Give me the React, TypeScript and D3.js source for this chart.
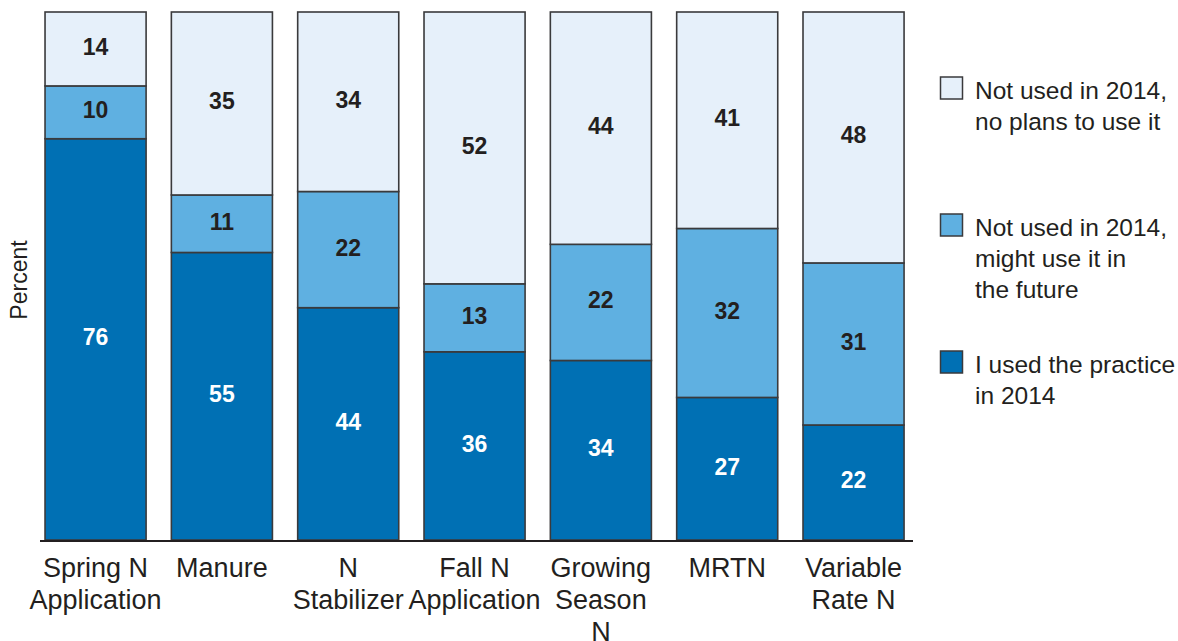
import * as d3 from "d3";

const categories = [
  "Spring N Application",
  "Manure",
  "N Stabilizer",
  "Fall N Application",
  "Growing Season N",
  "MRTN",
  "Variable Rate N",
];
const categoryLines = [
  ["Spring N", "Application"],
  ["Manure"],
  ["N", "Stabilizer"],
  ["Fall N", "Application"],
  ["Growing", "Season", "N"],
  ["MRTN"],
  ["Variable", "Rate N"],
];

// bottom to top
const usedValues = [76, 55, 44, 36, 34, 27, 22];
const mightUseValues = [10, 11, 22, 13, 22, 32, 31];
const noPlansValues = [14, 35, 34, 52, 44, 41, 48];

const seriesKeys = ["used", "might", "noPlans"];
const seriesColors = ["#0070b4", "#5fb0e1", "#e6f0fa"];
const labelColors = ["#ffffff", "#231f20", "#231f20"];
const legendLines = [
  ["I used the practice", "in 2014"],
  ["Not used in 2014,", "might use it in", "the future"],
  ["Not used in 2014,", "no plans to use it"],
];

const W = 1178;
const H = 641;
const FONT = "Liberation Sans, Arial, sans-serif";

export default function App() {
  const rows = categories.map((c, i) => ({
    name: c,
    used: usedValues[i],
    might: mightUseValues[i],
    noPlans: noPlansValues[i],
  }));

  // values are rounded, so normalise each bar to 100%
  const stack = d3
    .stack<any>()
    .keys(seriesKeys)
    .offset(d3.stackOffsetExpand);
  const layers = stack(rows);

  const xScale = d3
    .scaleBand()
    .domain(categories)
    .range([32.4, 916.7])
    .paddingInner(0.2)
    .paddingOuter(0.1);

  const yScale = d3.scaleLinear().domain([0, 1]).range([540, 12]);

  return (
    <div>
      <svg
        width={W}
        height={H}
        style={{ position: "absolute", left: 0, top: 0 }}
        fontFamily={FONT}
      >
        {layers.map((layer, li) => (
          <g key={layer.key}>
            {layer.map((d, i) => {
              const x = xScale(categories[i]) ?? 0;
              const y0 = yScale(d[0]);
              const y1 = yScale(d[1]);
              const v = (d.data as any)[layer.key];
              return (
                <g key={i}>
                  <rect
                    x={x}
                    y={y1}
                    width={xScale.bandwidth()}
                    height={y0 - y1}
                    fill={seriesColors[li]}
                    stroke="#3a3a3c"
                    strokeWidth={1.6}
                  />
                  <text
                    x={x + xScale.bandwidth() / 2}
                    y={(y0 + y1) / 2 - 2}
                    textAnchor="middle"
                    dominantBaseline="central"
                    fontSize={23}
                    fontWeight="bold"
                    fill={labelColors[li]}
                  >
                    {v}
                  </text>
                </g>
              );
            })}
          </g>
        ))}

        <line x1={40} x2={913} y1={541} y2={541} stroke="#231f20" strokeWidth={2} />

        {categoryLines.map((lines, i) => {
          const cx = (xScale(categories[i]) ?? 0) + xScale.bandwidth() / 2;
          return (
            <text key={i} textAnchor="middle" fontSize={27} fill="#231f20">
              {lines.map((l, j) => (
                <tspan key={j} x={cx} y={577 + j * 32}>
                  {l}
                </tspan>
              ))}
            </text>
          );
        })}

        <text
          transform="translate(27,280) rotate(-90)"
          textAnchor="middle"
          fontSize={23}
          fill="#231f20"
        >
          Percent
        </text>

        {legendLines.map((lines, li) => {
          const top = 351 - li * 137;
          return (
            <g key={li}>
              <rect
                x={940.5}
                y={top}
                width={22}
                height={22}
                fill={seriesColors[li]}
                stroke="#3a3a3c"
                strokeWidth={1.5}
              />
              <text fontSize={24.5} fill="#231f20">
                {lines.map((l, j) => (
                  <tspan key={j} x={975} y={top + 22 + j * 31}>
                    {l}
                  </tspan>
                ))}
              </text>
            </g>
          );
        })}
      </svg>
    </div>
  );
}
